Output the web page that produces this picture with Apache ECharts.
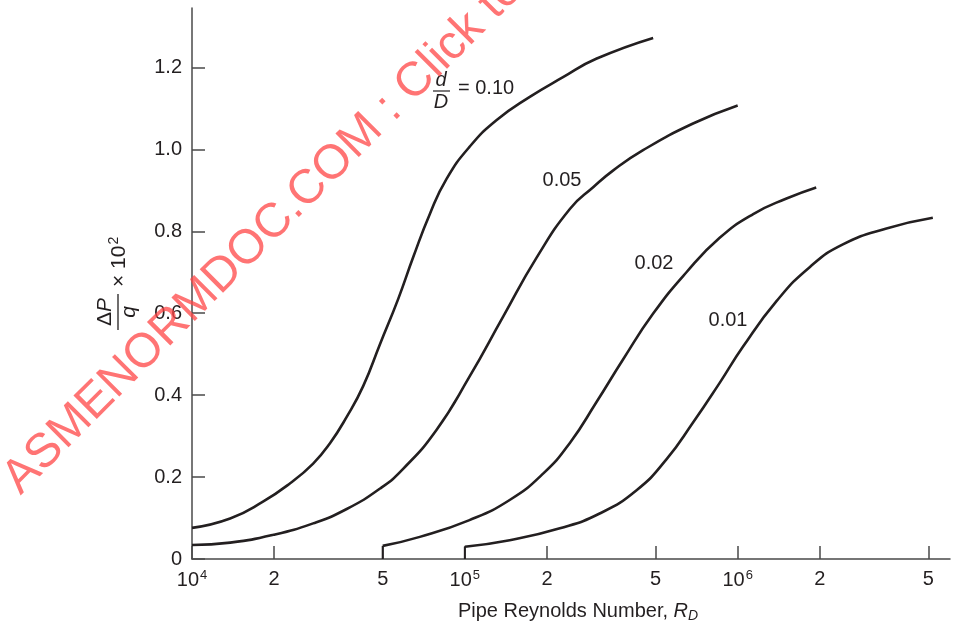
<!DOCTYPE html>
<html><head><meta charset="utf-8">
<script src="https://cdn.jsdelivr.net/npm/echarts@6/dist/echarts.min.js"></script>
<style>html,body{margin:0;padding:0;background:#fff}#c{width:955px;height:628px}</style>
</head><body><div id="c"></div>
<script>
// ---- tick data ----
const xTickValues = [1e4, 2e4, 5e4, 1e5, 2e5, 5e5, 1e6, 2e6, 5e6];
const xTickLabels = ['10{s|4}', '2', '5', '10{s|5}', '2', '5', '10{s|6}', '2', '5'];
const yTickValues = [0, 0.2, 0.4, 0.6, 0.8, 1.0, 1.2];
const yTickLabels = ['0', '0.2', '0.4', '0.6', '0.8', '1.0', '1.2'];
const xMin = 1e4, xMax = 6e6, yMin = 0, yMax = 1.345;

// ---- curves: d/D ratios ----
const curveNames = ['0.10', '0.05', '0.02', '0.01'];
const re010 = [10000, 13800, 18200, 22900, 27800, 32000, 36900, 42400, 48900, 57000, 64700, 74500, 85700, 104000, 130500, 173000, 229000, 303000, 490000];
const dp010 = [0.076, 0.099, 0.140, 0.185, 0.233, 0.282, 0.347, 0.422, 0.525, 0.635, 0.737, 0.843, 0.928, 1.006, 1.071, 1.128, 1.176, 1.221, 1.272];
const re005 = [10000, 13800, 19900, 27800, 36900, 48900, 59400, 78700, 104000, 138000, 183000, 243000, 296000, 349000, 450000, 686000, 1000000];
const dp005 = [0.034, 0.040, 0.059, 0.087, 0.122, 0.172, 0.220, 0.315, 0.445, 0.591, 0.735, 0.855, 0.908, 0.948, 0.998, 1.063, 1.107];
const re002 = [50000, 68400, 104000, 146000, 194000, 243000, 303000, 380000, 490000, 649000, 859000, 1140000, 1510000, 1940000];
const dp002 = [0.032, 0.054, 0.095, 0.144, 0.209, 0.284, 0.382, 0.487, 0.599, 0.700, 0.784, 0.842, 0.880, 0.907];
const re001 = [100000, 146000, 223000, 312000, 426000, 548000, 686000, 859000, 1045000, 1390000, 1840000, 2430000, 3510000, 5190000];
const dp001 = [0.030, 0.046, 0.075, 0.111, 0.168, 0.243, 0.333, 0.430, 0.518, 0.630, 0.713, 0.768, 0.807, 0.833];

// ---- build ----
const L = Math.log10;
const INK = '#231f20';
const AX = '#4a4a4a';
const FONT = '"Liberation Sans", Arial, sans-serif';
const toData = (re, dp) => re.map((r, i) => [L(r), dp[i]]);
const stub = (re, dp) => [[L(re[0]), 0], [L(re[0]), dp[0]]];
const xTickLog = xTickValues.map(L);

const curves = [[re010, dp010], [re005, dp005], [re002, dp002], [re001, dp001]];
const series = [];
curves.forEach((c, i) => {
  series.push({
    name: 'd/D = ' + curveNames[i], type: 'line', smooth: 0.5, showSymbol: false,
    data: toData(c[0], c[1]), lineStyle: { color: INK, width: 2.6 }, silent: true
  });
  if (c[1][0] > 0 && c[0][0] > xMin) {
    series.push({
      type: 'line', showSymbol: false, data: stub(c[0], c[1]),
      lineStyle: { color: INK, width: 2 }, silent: true
    });
  }
});

const chart = echarts.init(document.getElementById('c'), null, { renderer: 'canvas' });
chart.setOption({
  animation: false,
  backgroundColor: '#fff',
  textStyle: { fontFamily: FONT },
  grid: { left: 192, top: 8, width: 758, height: 551, containLabel: false },
  xAxis: {
    type: 'value', min: L(xMin), max: L(xMax),
    name: 'Pipe Reynolds Number, {i|R}{sub|D}',
    nameLocation: 'middle', nameGap: 40,
    nameTextStyle: {
      fontSize: 20, color: INK, fontFamily: FONT, padding: [0, 0, 0, 14],
      rich: {
        i: { fontSize: 20, fontStyle: 'italic', color: INK, fontFamily: FONT },
        sub: { fontSize: 14, fontStyle: 'italic', color: INK, fontFamily: FONT, padding: [10, 0, 0, 0] }
      }
    },
    axisLine: { lineStyle: { color: AX, width: 1.5 } },
    splitLine: { show: false },
    axisTick: { inside: true, length: 13, customValues: xTickLog, lineStyle: { color: AX, width: 1.5 } },
    axisLabel: {
      customValues: xTickLog, margin: 10, color: INK, fontSize: 20, fontFamily: FONT,
      formatter: v => { const k = xTickLog.findIndex(t => Math.abs(t - v) < 1e-6); return k >= 0 ? xTickLabels[k] : ''; },
      rich: { s: { fontSize: 13, color: INK, fontFamily: FONT, padding: [0, 0, 10, 1] } }
    }
  },
  yAxis: {
    type: 'value', min: yMin, max: yMax,
    axisLine: { show: true, lineStyle: { color: AX, width: 1.5 } },
    splitLine: { show: false },
    axisTick: { show: true, inside: true, length: 13, customValues: yTickValues, lineStyle: { color: AX, width: 1.5 } },
    axisLabel: {
      customValues: yTickValues, margin: 10, color: INK, fontSize: 20, fontFamily: FONT,
      formatter: v => { const k = yTickValues.findIndex(t => Math.abs(t - v) < 1e-9); return k >= 0 ? yTickLabels[k] : ''; }
    }
  },
  series: series,
  graphic: [
    // y-axis title: ΔP/q × 10^2 (rotated)
    {
      type: 'group', x: 118, y: 312, rotation: Math.PI / 2, silent: true,
      children: [
        { type: 'text', x: 0, y: -2, style: { text: '{n|Δ}{i|P}', align: 'center', verticalAlign: 'bottom', fill: INK,
          rich: { n: { fontSize: 21, fontFamily: FONT, fill: INK }, i: { fontSize: 21, fontStyle: 'italic', fontFamily: FONT, fill: INK } } } },
        { type: 'line', shape: { x1: -18, y1: 0, x2: 18, y2: 0 }, style: { stroke: INK, lineWidth: 1.3 } },
        { type: 'text', x: 0, y: 1, style: { text: 'q', align: 'center', verticalAlign: 'top', fill: INK,
          fontSize: 21, fontStyle: 'italic', fontFamily: FONT } },
        { type: 'text', x: 25, y: 1, style: { text: '× 10{s|2}', align: 'left', verticalAlign: 'middle', fill: INK,
          fontSize: 21, fontFamily: FONT,
          rich: { s: { fontSize: 14, fontFamily: FONT, fill: INK, padding: [0, 0, 10, 1] } } } }
      ]
    },
    // d/D = 0.10 label
    {
      type: 'group', x: 441, y: 91, silent: true,
      children: [
        { type: 'text', x: 0, y: -1, style: { text: 'd', align: 'center', verticalAlign: 'bottom', fill: INK,
          fontSize: 20, fontStyle: 'italic', fontFamily: FONT } },
        { type: 'line', shape: { x1: -8, y1: 0, x2: 9, y2: 0 }, style: { stroke: INK, lineWidth: 1.2 } },
        { type: 'text', x: 0, y: 1, style: { text: 'D', align: 'center', verticalAlign: 'top', fill: INK,
          fontSize: 20, fontStyle: 'italic', fontFamily: FONT } },
        { type: 'text', x: 17, y: -3, style: { text: '= ' + curveNames[0], align: 'left', verticalAlign: 'middle', fill: INK,
          fontSize: 20, fontFamily: FONT } }
      ]
    },
    { type: 'text', x: 562, y: 180, silent: true, style: { text: curveNames[1], align: 'center', verticalAlign: 'middle', fill: INK, fontSize: 20, fontFamily: FONT } },
    { type: 'text', x: 654, y: 263, silent: true, style: { text: curveNames[2], align: 'center', verticalAlign: 'middle', fill: INK, fontSize: 20, fontFamily: FONT } },
    { type: 'text', x: 728, y: 320, silent: true, style: { text: curveNames[3], align: 'center', verticalAlign: 'middle', fill: INK, fontSize: 20, fontFamily: FONT } },
    // watermark
    { type: 'text', x: 28, y: 503, rotation: Math.PI / 4, z: 100, silent: true,
      style: { text: 'ASMENORMDOC.COM : Click to view the full PDF', align: 'left', verticalAlign: 'bottom',
        fill: 'rgba(255, 70, 70, 0.75)', fontSize: 48, fontFamily: FONT } }
  ]
});
</script>
</body></html>
